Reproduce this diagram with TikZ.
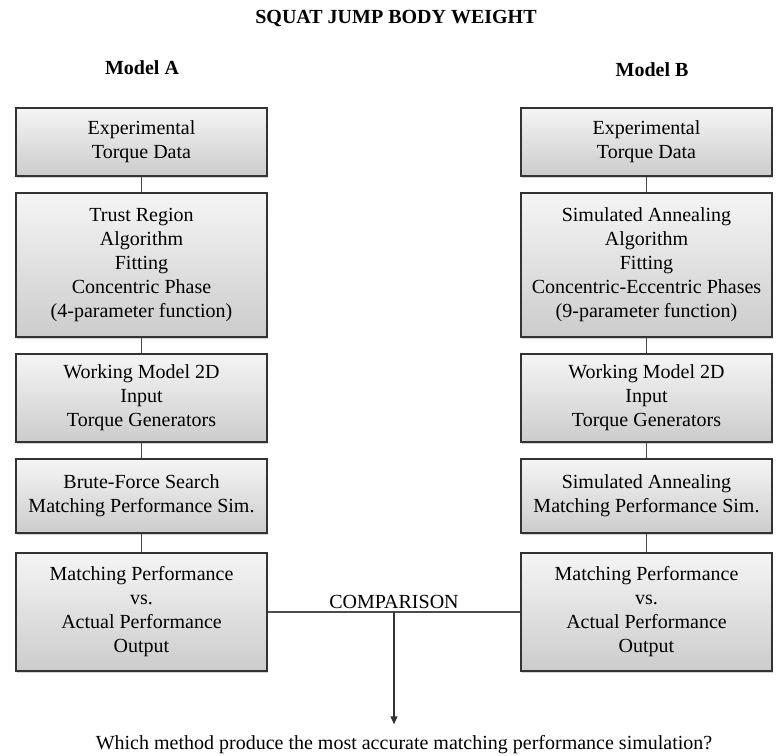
\documentclass[tikz,border=0pt]{standalone}
\usepackage{fontspec}
\setmainfont{Liberation Serif}
\usepackage{tikz}
\usetikzlibrary{arrows.meta, positioning, shadows}

\begin{document}
\begin{tikzpicture}[
  x=1pt, y=-1pt,
  box/.style={draw=black!80, line width=1.5pt, top color=gray!8, bottom color=gray!40,
              minimum width=251pt, align=center, inner sep=2pt,
              font=\fontsize{20}{24}\selectfont,
              drop shadow={shadow xshift=1pt, shadow yshift=-1.5pt, opacity=.35}},
  head/.style={font=\fontsize{20}{24}\selectfont\bfseries},
  link/.style={draw=black!70, line width=1.6pt},
  arr/.style={-{Triangle[length=8pt, width=7pt]}, draw=black!80, line width=1.2pt}
]
  \useasboundingbox (0,0) rectangle (779,755);

  \node[head] (title)  at (396, 18) {SQUAT JUMP BODY WEIGHT};
  \node[head] (modelA) at (142, 68) {Model A};
  \node[head] (modelB) at (652, 70) {Model B};

  % Model A
  \node[box, minimum height=68pt]  (a1) at (141.5,142) {Experimental\\Torque Data};
  \node[box, minimum height=144pt] (a2) at (141.5,265) {Trust Region\\Algorithm\\Fitting\\Concentric Phase\\(4-parameter function)};
  \node[box, minimum height=88pt]  (a3) at (141.5,398) {Working Model 2D\\Input\\Torque Generators};
  \node[box, minimum height=74pt]  (a4) at (141.5,496) {Brute-Force Search\\Matching Performance Sim.};
  \node[box, minimum height=118pt] (a5) at (141.5,612) {Matching Performance\\vs.\\Actual Performance\\Output};

  % Model B
  \node[box, minimum height=68pt]  (b1) at (646.5,142) {Experimental\\Torque Data};
  \node[box, minimum height=144pt] (b2) at (646.5,265) {Simulated Annealing\\Algorithm\\Fitting\\Concentric-Eccentric Phases\\(9-parameter function)};
  \node[box, minimum height=88pt]  (b3) at (646.5,398) {Working Model 2D\\Input\\Torque Generators};
  \node[box, minimum height=74pt]  (b4) at (646.5,496) {Simulated Annealing\\Matching Performance Sim.};
  \node[box, minimum height=118pt] (b5) at (646.5,612) {Matching Performance\\vs.\\Actual Performance\\Output};

  \foreach \col in {a,b} {
    \draw[link] (\col1) -- (\col2);
    \draw[link] (\col2) -- (\col3);
    \draw[link] (\col3) -- (\col4);
    \draw[link] (\col4) -- (\col5);
  }

  \node[font=\fontsize{20}{24}\selectfont] (question) at (404, 745)
    {Which method produce the most accurate matching performance simulation?};

  \draw[link] (a5.east) -- coordinate (mid)
    node[above, font=\fontsize{20}{24}\selectfont, inner sep=3pt] {COMPARISON} (b5.west);
  \draw[arr] (mid) -- ([yshift=8pt]question.north -| mid);
\end{tikzpicture}
\end{document}
